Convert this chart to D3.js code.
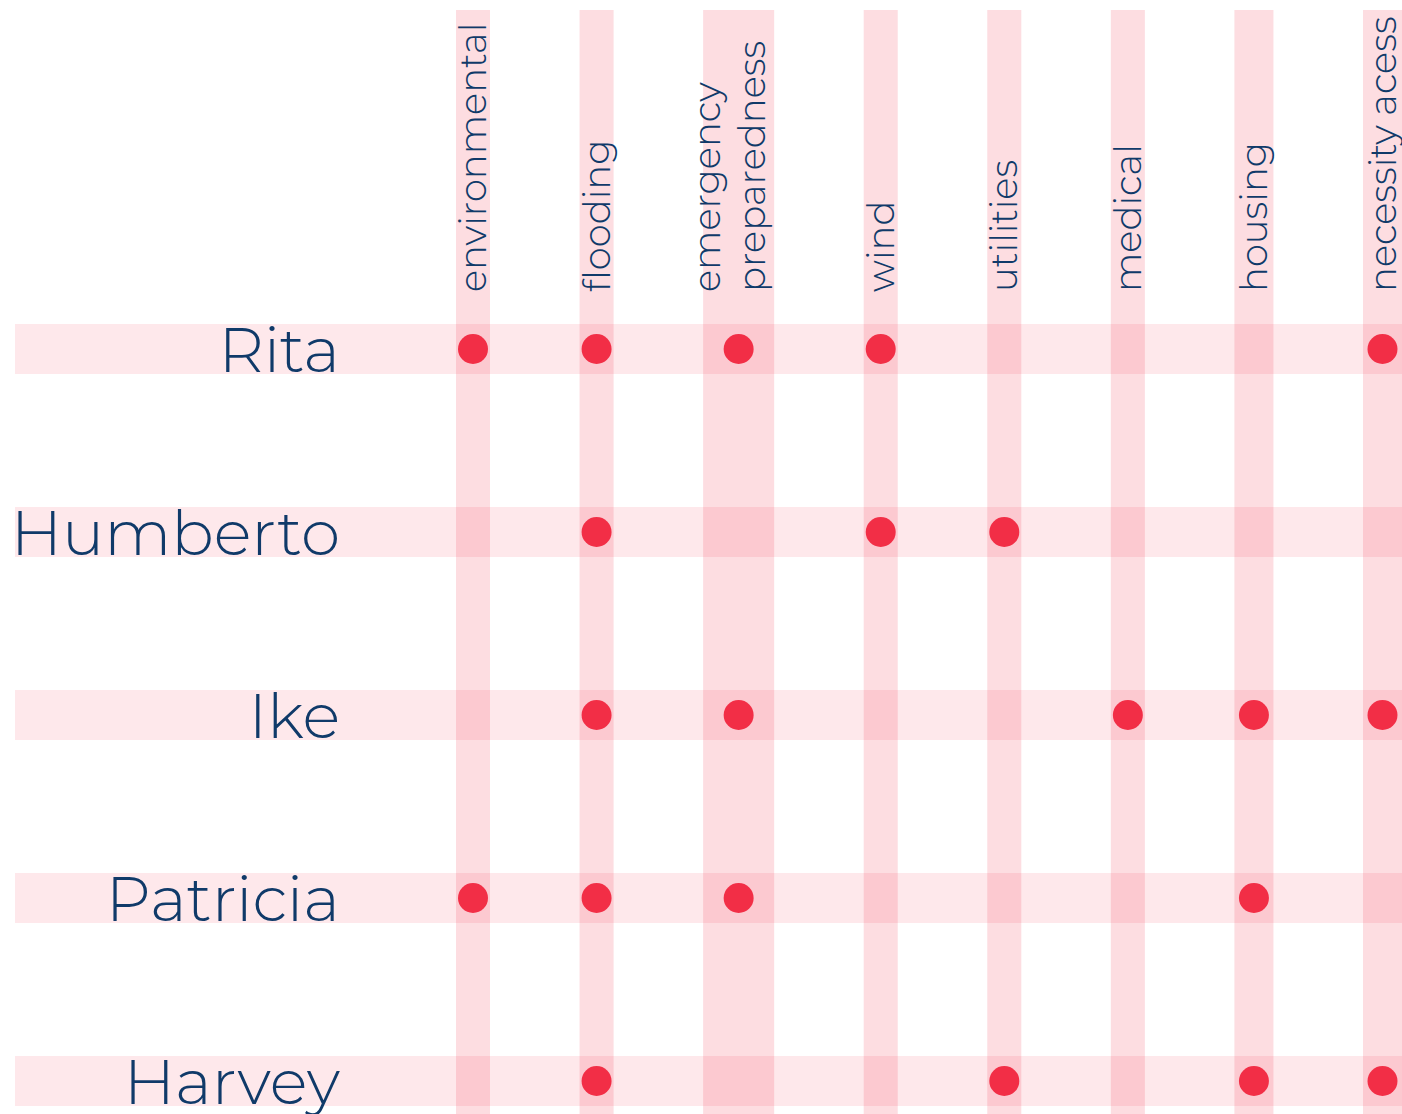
<!DOCTYPE html>
<html>
<head>
<meta charset="utf-8">
<script src="https://cdn.jsdelivr.net/npm/d3@7"></script>
<style>
    body { margin: 0; background: #fff; }
    svg text { font-family: Montserrat, Lato, "Open Sans", sans-serif; font-weight: 300; fill: #103a69; }
</style>
</head>
<body>
<div id="chart"></div>
<script>
const hurricanes = ["Rita", "Humberto", "Ike", "Patricia", "Harvey"];

const categories = ["environmental", "flooding", "emergency preparedness", "wind",
    "utilities", "medical", "housing", "necessity acess"];

// tick labels, one entry per line
const categoryLabels = [["environmental"], ["flooding"], ["emergency", "preparedness"], ["wind"],
    ["utilities"], ["medical"], ["housing"], ["necessity acess"]];

// 1 = topic mentioned for that hurricane, same order as categories
const rita     = [1, 1, 1, 1, 0, 0, 0, 1];
const humberto = [0, 1, 0, 1, 1, 0, 0, 0];
const ike      = [0, 1, 1, 0, 0, 1, 1, 1];
const patricia = [1, 1, 1, 0, 0, 0, 1, 0];
const harvey   = [0, 1, 0, 0, 1, 0, 1, 1];

const mentions = [rita, humberto, ike, patricia, harvey];

const WIDTH = 1402;
const HEIGHT = 1114;
const COL_START = 456;
const COL_TOP = 10;
const LABEL_BOTTOM = 292;
const LINE_STEP = 45;
const ROW_LEFT = 15;
const ROW_HEIGHT = 50;
const DOT_R = 15;

// band widths follow the label block (lines, descenders)
const bandWidths = [34, 34, 71, 34, 34, 34, 39, 39];
const gap = (WIDTH - COL_START - d3.sum(bandWidths)) / (categories.length - 1);
const lefts = [];
bandWidths.reduce((acc, w) => { lefts.push(acc); return acc + w + gap; }, COL_START);

const x = d3.scaleOrdinal().domain(categories).range(lefts);
const w = d3.scaleOrdinal().domain(categories).range(bandWidths);
const xMid = c => x(c) + w(c) / 2;

const y = d3.scalePoint().domain(hurricanes).range([349, 1081]);

const svg = d3.select("#chart")
    .append("svg")
    .attr("width", WIDTH)
    .attr("height", HEIGHT);

// vertical bands
svg.append("g")
    .selectAll("rect")
    .data(categories)
    .join("rect")
    .attr("x", d => x(d))
    .attr("y", COL_TOP)
    .attr("width", d => w(d))
    .attr("height", HEIGHT - COL_TOP)
    .attr("fill", "#f22e46")
    .attr("fill-opacity", 0.163);

// horizontal bands
svg.append("g")
    .selectAll("rect")
    .data(hurricanes)
    .join("rect")
    .attr("x", ROW_LEFT)
    .attr("y", d => y(d) - ROW_HEIGHT / 2)
    .attr("width", WIDTH - ROW_LEFT)
    .attr("height", ROW_HEIGHT)
    .attr("fill", "#f22e46")
    .attr("fill-opacity", 0.11);

// column labels, rotated
svg.append("g")
    .selectAll("text")
    .data(categories)
    .join("text")
    .attr("transform", d => `translate(${xMid(d)}, ${LABEL_BOTTOM}) rotate(-90)`)
    .style("font-size", "37px")
    .selectAll("tspan")
    .data((d, i) => categoryLabels[i].map((t, j, arr) => ({t, j, n: arr.length})))
    .join("tspan")
    .attr("x", 0)
    .attr("y", d => 13 - 9 * (d.n - 1) + (d.j - (d.n - 1) / 2) * LINE_STEP)
    .text(d => d.t);

// row labels
svg.append("g")
    .selectAll("text")
    .data(hurricanes)
    .join("text")
    .attr("x", 340)
    .attr("y", d => y(d) + 23)
    .attr("text-anchor", "end")
    .style("font-size", "63px")
    .text(d => d);

// dots
const cells = hurricanes.flatMap((h, i) =>
    categories.map((c, j) => ({h, c, v: mentions[i][j]}))).filter(d => d.v);

svg.append("g")
    .selectAll("circle")
    .data(cells)
    .join("circle")
    .attr("cx", d => xMid(d.c))
    .attr("cy", d => y(d.h))
    .attr("r", DOT_R)
    .attr("fill", "#f22e46");
</script>
</body>
</html>
